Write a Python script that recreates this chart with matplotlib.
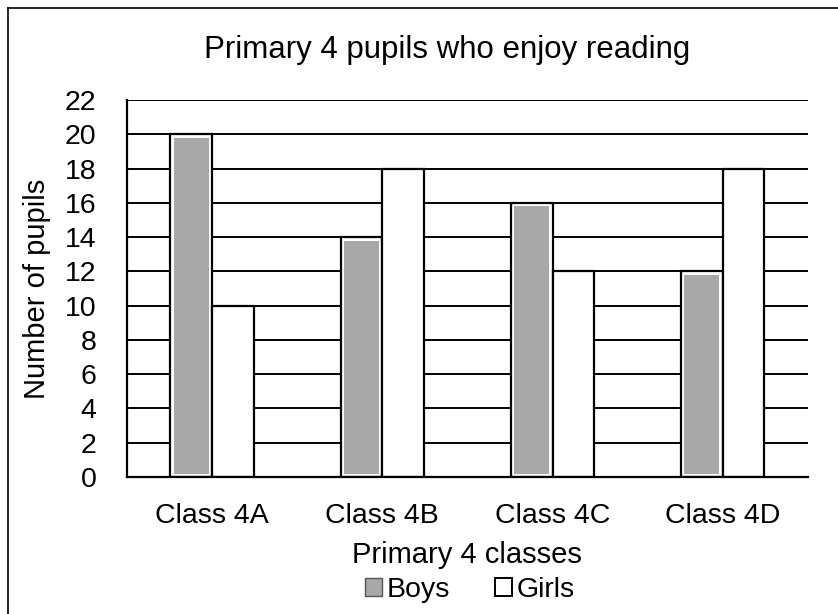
import matplotlib
matplotlib.use("Agg")
import matplotlib.pyplot as plt
import numpy as np
from matplotlib.patches import Patch
from matplotlib.lines import Line2D

categories = ["Class 4A", "Class 4B", "Class 4C", "Class 4D"]
boys = [20, 14, 16, 12]
girls = [10, 18, 12, 18]
yticks = list(range(0, 23, 2))

plt.rcParams['font.family'] = ['Liberation Sans', 'DejaVu Sans']

fig = plt.figure(figsize=(8.38, 6.14), dpi=100)
ax = fig.add_axes([0.1516, 0.2231, 0.964 - 0.1516, 0.837 - 0.2231])

x = np.arange(len(categories))
w = 0.245
gray = "#a8a8a8"

ax.set_axisbelow(True)
ax.yaxis.grid(True, color="black", lw=1.4)

# boys: white outer with black edge, gray inner
ax.bar(x - w / 2, boys, width=w, color="white", edgecolor="black", lw=1.6, zorder=2)
inset_x = 0.02
inset_y = 0.2
ax.bar(x - w / 2, np.array(boys) - 2 * inset_y, bottom=inset_y, width=w - 2 * inset_x,
       color=gray, edgecolor="none", zorder=3)
ax.bar(x + w / 2, girls, width=w, color="white", edgecolor="black", lw=1.6, zorder=2)

ax.set_xlim(-0.5, len(categories) - 0.5)
ax.set_ylim(0, 22)
ax.set_yticks(yticks)
ax.set_xticks(x)
ax.set_xticklabels(categories)
ax.tick_params(axis="both", length=0, labelsize=20.5, colors="black")
ax.tick_params(axis="x", pad=19)
ax.tick_params(axis="y", pad=22)

for s in ["top", "right"]:
    ax.spines[s].set_visible(False)
ax.spines["left"].set_linewidth(1.6)
ax.spines["bottom"].set_linewidth(1.6)

ax.set_xlabel("Primary 4 classes", fontsize=21, labelpad=8)
ax.set_ylabel("Number of pupils", fontsize=21, labelpad=10)

fig.text(447 / 838, 1 - 50 / 614, "Primary 4 pupils who enjoy reading",
         ha="center", va="center", fontsize=22.5)

handles = [Patch(facecolor=gray, edgecolor="#555555", lw=1.0),
           Patch(facecolor="white", edgecolor="black", lw=1.4)]
fig.legend(handles, ["Boys", "Girls"], loc="center", bbox_to_anchor=(470 / 838, 1 - 590 / 614),
           ncol=2, frameon=False, fontsize=20.5, handlelength=0.6, handleheight=0.6,
           handletextpad=0.15, columnspacing=1.6)

# outer frame (left and top edges visible)
fig.add_artist(Line2D([8 / 838, 8 / 838], [0, 1 - 8 / 614], transform=fig.transFigure, color="black", lw=1.2))
fig.add_artist(Line2D([8 / 838, 1], [1 - 8 / 614, 1 - 8 / 614], transform=fig.transFigure, color="black", lw=1.2))

fig.savefig("out.png", dpi=100)
